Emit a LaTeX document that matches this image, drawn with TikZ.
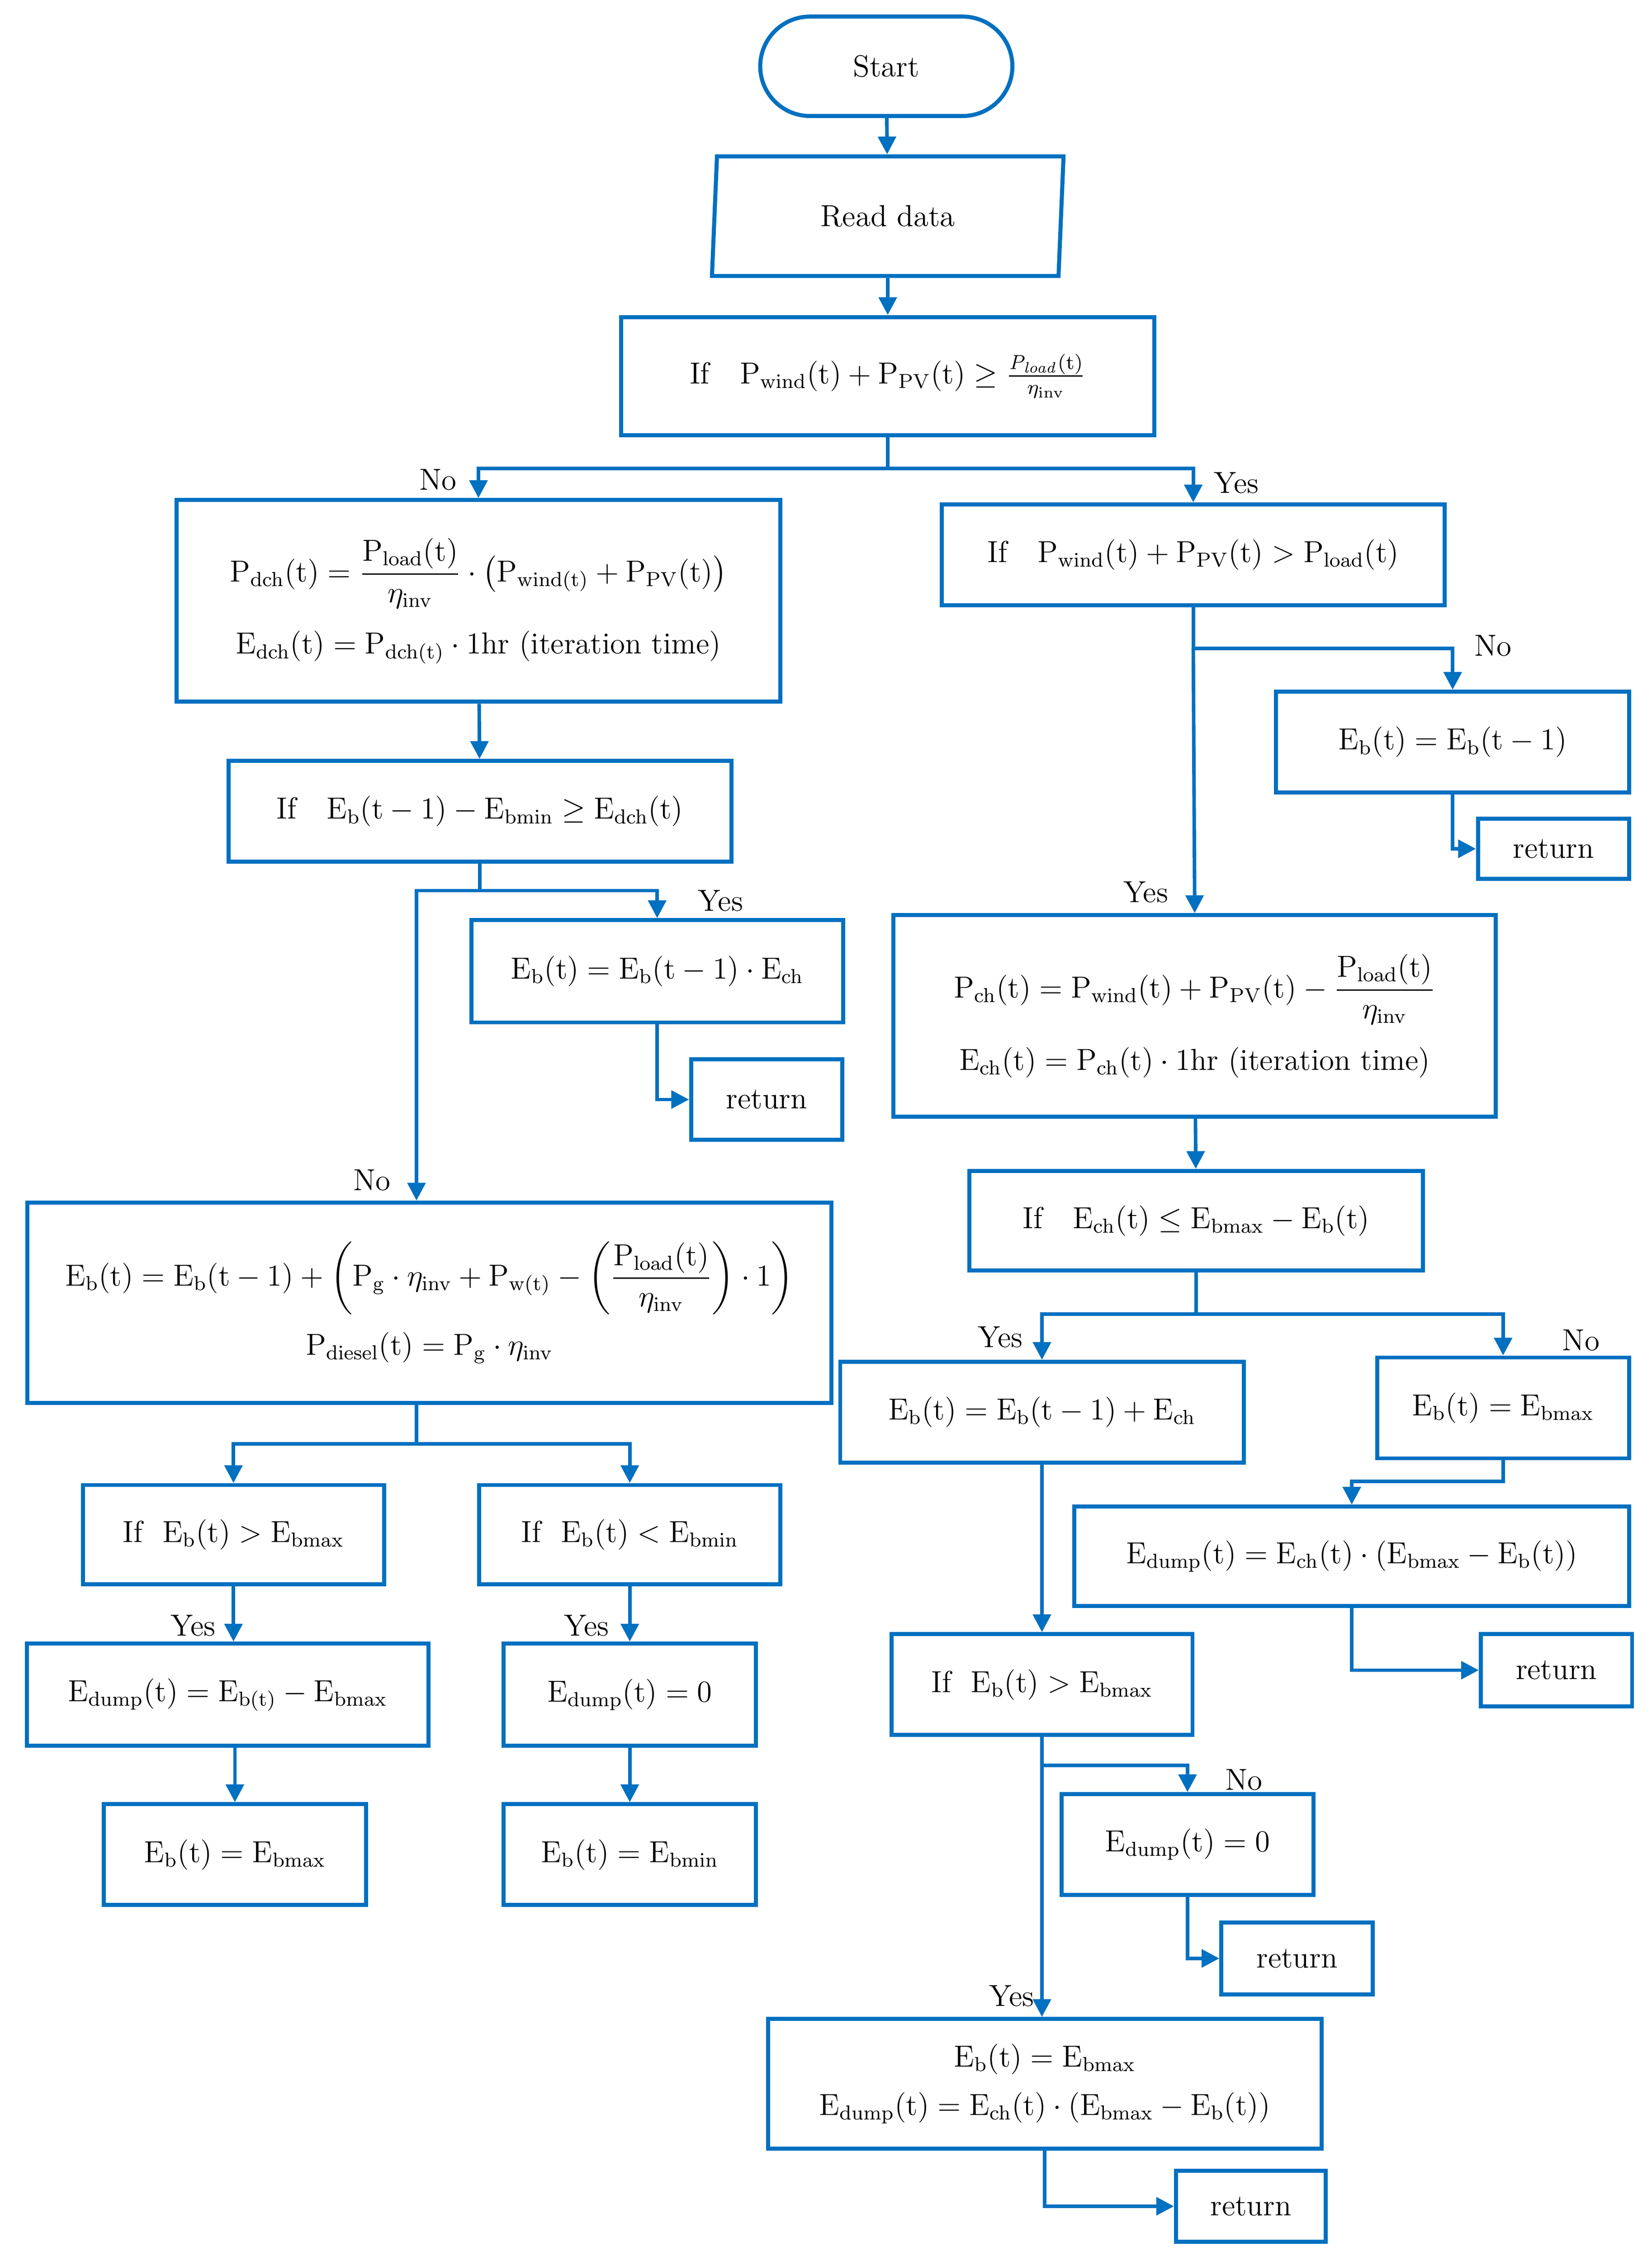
\documentclass[tikz,border=0pt]{standalone}
\usepackage{amsmath}
\usepackage{amssymb}
\usepackage{tikz}
\usetikzlibrary{positioning, shapes.geometric, arrows.meta, calc}
\definecolor{flow}{RGB}{0,112,192}

\begin{document}
\begin{tikzpicture}[
    % GLOBAL SETTINGS
    x=0.02cm, y=-0.02cm,
    font=\fontsize{12}{15}\selectfont,
    % STYLES
    box/.style={rectangle, draw=flow, line width=1.6pt, inner sep=0pt, align=center},
    term/.style={rectangle, rounded corners=0.69cm, draw=flow, line width=1.6pt, inner sep=0pt},
    io/.style={trapezium, trapezium left angle=77, trapezium right angle=103, trapezium stretches body,
               draw=flow, line width=1.6pt, inner sep=0pt},
    arrow/.style={draw=flow, line width=1.4pt, -{Triangle[length=7pt, width=7pt]}},
    lbl/.style={font=\fontsize{12}{14}\selectfont, inner sep=1pt}
]
    \useasboundingbox (0,0) rectangle (1146,1569);

    % top of the chart
    \node[term, minimum width=3.5cm, minimum height=1.38cm] (start) at (615,46) {Start};
    \node[io, minimum width=4.88cm, minimum height=1.66cm] (read) at (616,150) {Read data};
    \node[box, minimum width=7.4cm, minimum height=1.64cm] (c1) at (616,261)
        {If\quad $\mathrm{P_{wind}(t)+P_{PV}(t)\ge\frac{\mathit{P_{load}}(t)}{\eta_{inv}}}$};

    % left branch
    \node[box, minimum width=8.38cm, minimum height=2.8cm] (pdch) at (332,417)
        {$\mathrm{P_{dch}(t)=\dfrac{P_{load}(t)}{\eta_{inv}}\cdot\left(P_{wind(t)}+P_{PV}(t)\right)}$\\[8pt]
         $\mathrm{E_{dch}(t)=P_{dch(t)}\cdot 1hr}$ (iteration time)};
    \node[box, minimum width=6.98cm, minimum height=1.4cm] (c3) at (333,563)
        {If\quad $\mathrm{E_b(t-1)-E_{bmin}\ge E_{dch}(t)}$};
    \node[box, minimum width=5.16cm, minimum height=1.42cm] (ebch) at (456,674)
        {$\mathrm{E_b(t)=E_b(t-1)\cdot E_{ch}}$};
    \node[box, minimum width=2.1cm, minimum height=1.12cm] (ret2) at (532,763) {return};
    \node[box, minimum width=11.16cm, minimum height=2.78cm] (big) at (298,904)
        {$\mathrm{E_b(t)=E_b(t-1)+\left(P_g\cdot\eta_{inv}+P_{w(t)}-\left(\dfrac{P_{load}(t)}{\eta_{inv}}\right)\cdot 1\right)}$\\[6pt]
         $\mathrm{P_{diesel}(t)=P_g\cdot\eta_{inv}}$};
    \node[box, minimum width=4.18cm, minimum height=1.38cm] (c6) at (162,1065)
        {If\ \ $\mathrm{E_b(t)>E_{bmax}}$};
    \node[box, minimum width=4.18cm, minimum height=1.38cm] (c7) at (437,1065)
        {If\ \ $\mathrm{E_b(t)<E_{bmin}}$};
    \node[box, minimum width=5.58cm, minimum height=1.42cm] (edumpL) at (158,1176)
        {$\mathrm{E_{dump}(t)=E_{b(t)}-E_{bmax}}$};
    \node[box, minimum width=3.5cm, minimum height=1.42cm] (edz) at (437,1176)
        {$\mathrm{E_{dump}(t)=0}$};
    \node[box, minimum width=3.64cm, minimum height=1.4cm] (ebmaxL) at (163,1287)
        {$\mathrm{E_b(t)=E_{bmax}}$};
    \node[box, minimum width=3.5cm, minimum height=1.4cm] (ebminL) at (437,1287)
        {$\mathrm{E_b(t)=E_{bmin}}$};

    % right branch
    \node[box, minimum width=6.98cm, minimum height=1.4cm] (c2) at (828,385)
        {If\quad $\mathrm{P_{wind}(t)+P_{PV}(t)>P_{load}(t)}$};
    \node[box, minimum width=4.9cm, minimum height=1.4cm] (eb1) at (1008,515)
        {$\mathrm{E_b(t)=E_b(t-1)}$};
    \node[box, minimum width=2.1cm, minimum height=0.84cm] (ret1) at (1078,589) {return};
    \node[box, minimum width=8.36cm, minimum height=2.8cm] (pch) at (829,705)
        {$\mathrm{P_{ch}(t)=P_{wind}(t)+P_{PV}(t)-\dfrac{P_{load}(t)}{\eta_{inv}}}$\\[8pt]
         $\mathrm{E_{ch}(t)=P_{ch}(t)\cdot 1hr}$ (iteration time)};
    \node[box, minimum width=6.3cm, minimum height=1.38cm] (c4) at (830,847)
        {If\quad $\mathrm{E_{ch}(t)\le E_{bmax}-E_b(t)}$};
    \node[box, minimum width=5.6cm, minimum height=1.4cm] (ebplus) at (723,980)
        {$\mathrm{E_b(t)=E_b(t-1)+E_{ch}}$};
    \node[box, minimum width=3.5cm, minimum height=1.4cm] (ebmax1) at (1043,977)
        {$\mathrm{E_b(t)=E_{bmax}}$};
    \node[box, minimum width=7.7cm, minimum height=1.38cm] (edump1) at (938,1080)
        {$\mathrm{E_{dump}(t)=E_{ch}(t)\cdot\left(E_{bmax}-E_b(t)\right)}$};
    \node[box, minimum width=2.1cm, minimum height=1.0cm] (ret3) at (1080,1159) {return};
    \node[box, minimum width=4.18cm, minimum height=1.4cm] (c5) at (723,1169)
        {If\ \ $\mathrm{E_b(t)>E_{bmax}}$};
    \node[box, minimum width=3.5cm, minimum height=1.4cm] (edz2) at (824,1280)
        {$\mathrm{E_{dump}(t)=0}$};
    \node[box, minimum width=2.1cm, minimum height=1.0cm] (ret4) at (900,1359) {return};
    \node[box, minimum width=7.68cm, minimum height=1.8cm] (final) at (725,1446)
        {$\mathrm{E_b(t)=E_{bmax}}$\\[4pt]
         $\mathrm{E_{dump}(t)=E_{ch}(t)\cdot\left(E_{bmax}-E_b(t)\right)}$};
    \node[box, minimum width=2.08cm, minimum height=0.98cm] (ret5) at (868,1531) {return};

    % branch points
    \coordinate (s1) at (616,325);
    \coordinate (s2) at (828,450);
    \coordinate (s3) at (333,618);
    \coordinate (s4) at (830,912);
    \coordinate (s5) at (1043,1028);
    \coordinate (s6) at (723,1225);
    \coordinate (s7) at (289,1002);

    % connectors
    \draw[arrow] (start) -- (read);
    \draw[arrow] (read) -- (c1);
    \draw[arrow] (c1.south) -- (s1) -| (pdch.north);
    \draw[arrow] (s1) -| (c2.north);
    \draw[arrow] (pdch) -- (c3);
    \draw[arrow] (c2.south) -- (s2) -| (eb1.north);
    \draw[arrow] (s2) -- (pch.north);
    \draw[arrow] (eb1.south) |- (ret1.west);
    \draw[arrow] (c3.south) -- (s3) -| (ebch.north);
    \draw[arrow] (s3) -| (big.north -| s7);
    \draw[arrow] (ebch.south) |- (ret2.west);
    \draw[arrow] (pch) -- (c4);
    \draw[arrow] (c4.south) -- (s4) -| (ebplus.north);
    \draw[arrow] (s4) -| (ebmax1.north);
    \draw[arrow] (ebmax1.south) -- (s5) -| (edump1.north);
    \draw[arrow] (edump1.south) |- (ret3.west);
    \draw[arrow] (ebplus) -- (c5);
    \draw[arrow] (c5.south) -- (s6) -| (edz2.north);
    \draw[arrow] (s6) -- (final.north -| s6);
    \draw[arrow] (edz2.south) |- (ret4.west);
    \draw[arrow] (final.south) |- (ret5.west);
    \draw[arrow] (big.south -| s7) -- (s7) -| (c6.north);
    \draw[arrow] (s7) -| (c7.north);
    \draw[arrow] (c6) -- (edumpL.north -| c6.south);
    \draw[arrow] (c7) -- (edz);
    \draw[arrow] (edumpL.south -| ebmaxL.north) -- (ebmaxL);
    \draw[arrow] (edz) -- (ebminL);

    % labels
    \node[lbl] (no1) at (304,333) {No};
    \node[lbl] (yes1) at (858,335) {Yes};
    \node[lbl] (no2) at (1036,448) {No};
    \node[lbl] (yes2) at (795,619) {Yes};
    \node[lbl] (yes3) at (500,625) {Yes};
    \node[lbl] (no3) at (258,819) {No};
    \node[lbl] (yes4) at (694,928) {Yes};
    \node[lbl] (no4) at (1097,930) {No};
    \node[lbl] (no5) at (863,1235) {No};
    \node[lbl] (yes5) at (702,1385) {Yes};
    \node[lbl] (yes6) at (134,1128) {Yes};
    \node[lbl] (yes7) at (407,1128) {Yes};
\end{tikzpicture}
\end{document}
